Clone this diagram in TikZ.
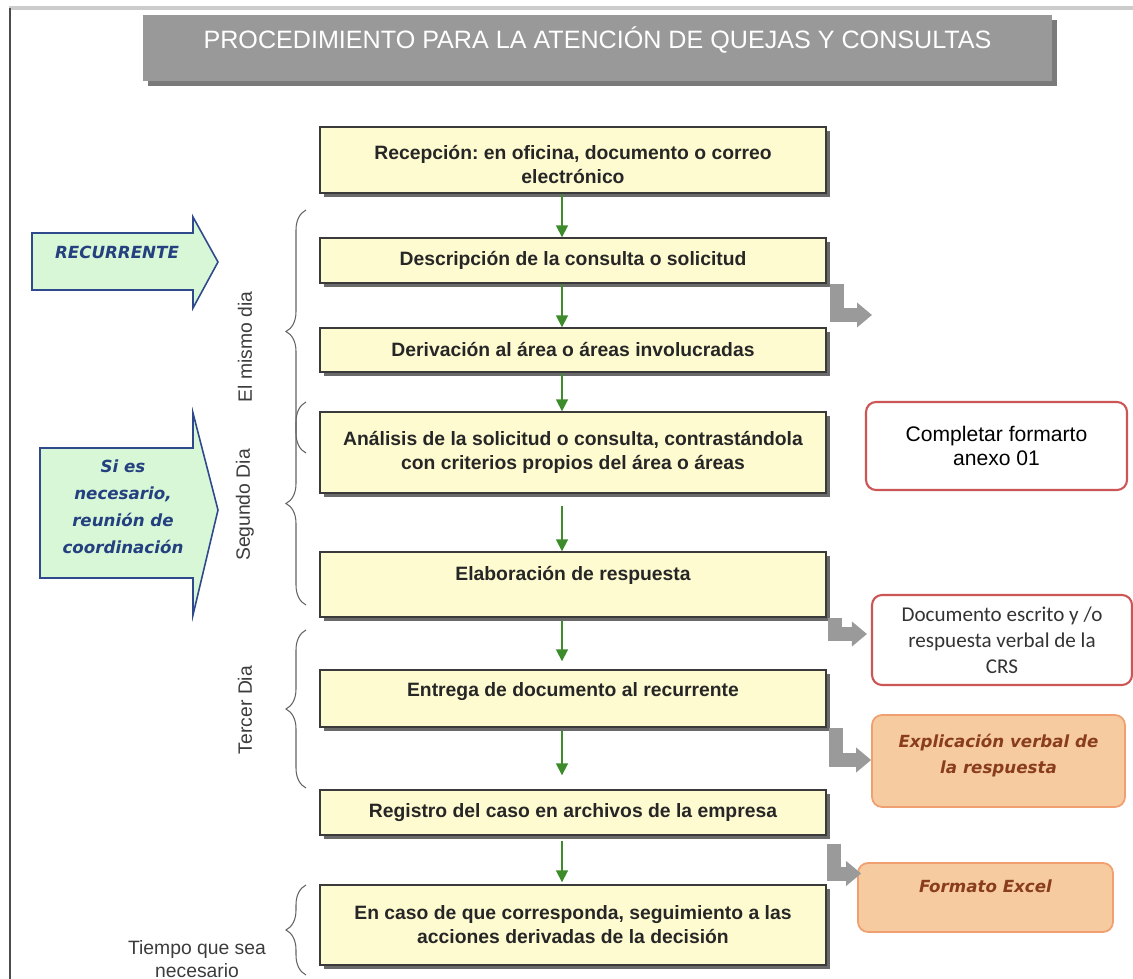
\documentclass[tikz,border=0pt]{standalone}
\usepackage{fontspec}
\setmainfont{Liberation Sans}
\newfontfamily\titlefont{Liberation Sans}
\newfontfamily\blockfont{DejaVu Sans}
\newfontfamily\notefont{Carlito}
\usetikzlibrary{arrows.meta,shadows,decorations.pathreplacing}
\frenchspacing

\definecolor{boxfill}{HTML}{FFFBD0}
\definecolor{boxline}{HTML}{3A3A3A}
\definecolor{boxshade}{HTML}{6A6A6A}
\definecolor{flowgreen}{HTML}{3D8B2A}
\definecolor{elbowgray}{HTML}{9A9A9A}
\definecolor{titlegray}{HTML}{999999}
\definecolor{titleshade}{HTML}{7A7A7A}
\definecolor{blockfill}{HTML}{D7F7D7}
\definecolor{blockline}{HTML}{2E4A8C}
\definecolor{blocktext}{HTML}{24407F}
\definecolor{noteline}{HTML}{CC5555}
\definecolor{peachfill}{HTML}{F7CBA0}
\definecolor{peachline}{HTML}{F0A070}
\definecolor{browntext}{HTML}{8A3D1E}
\definecolor{labelgray}{HTML}{3C3C3C}

\tikzset{
  stepbox/.style={draw=boxline, line width=0.8pt, fill=boxfill,
    minimum width=10.12cm, align=center, text=black!85,
    font=\fontsize{11}{13.6}\selectfont\bfseries,
    drop shadow={shadow xshift=0.08cm, shadow yshift=-0.08cm,
      fill=boxshade, opacity=1}},
  flow/.style={draw=flowgreen, line width=1pt,
    -{Triangle[width=0.24cm,length=0.24cm]}},
  elbow/.style={draw=elbowgray, line width=0.28cm,
    -{Triangle[width=0.48cm,length=0.3cm]}},
  notebox/.style={draw=noteline, line width=1.2pt, fill=white,
    rounded corners=0.2cm, align=center},
  peachbox/.style={draw=peachline, line width=1pt, fill=peachfill,
    rounded corners=0.2cm, align=center, text=browntext,
    font=\blockfont\fontsize{9.5}{14.5}\selectfont\bfseries\itshape},
  blockarrow/.style={draw=blockline, line width=0.9pt, fill=blockfill},
  blocklabel/.style={align=center, text=blocktext,
    font=\blockfont\fontsize{9.5}{15.3}\selectfont\bfseries\itshape},
  daybrace/.style={draw=labelgray!80, line width=0.6pt, decorate,
    decoration={brace, amplitude=0.4cm}},
  daylabel/.style={rotate=90, text=labelgray,
    font=\fontsize{11}{13}\selectfont}
}

\begin{document}
\begin{tikzpicture}[x=0.02cm, y=-0.02cm]
  \useasboundingbox (0,0) rectangle (1133,979);
  % frame of the page
  \fill[black!20] (9,6) rectangle (1133,10);
  \fill[black!70] (9,8) rectangle (11,979);

  % title
  \node[fill=titlegray, minimum width=18.18cm, minimum height=1.32cm,
    text depth=12pt, text=white,
    drop shadow={shadow xshift=0.1cm, shadow yshift=-0.1cm,
      fill=titleshade, opacity=1},
    font=\titlefont\fontsize{14.3}{16}\selectfont] (titulo) at (597.5,48)
    {PROCEDIMIENTO PARA LA ATENCIÓN DE QUEJAS Y CONSULTAS};

  % main steps
  \node[stepbox, minimum height=1.32cm, text height=27pt] (recep) at (573,160)
    {Recepción: en oficina, documento o correo\\ electrónico};
  \node[stepbox, minimum height=0.9cm] (desc) at (573,260.5)
    {Descripción de la consulta o solicitud};
  \node[stepbox, minimum height=0.88cm] (deriv) at (573,350)
    {Derivación al área o áreas involucradas};
  \node[stepbox, minimum height=1.62cm] (anal) at (573,452.5)
    {Análisis de la solicitud o consulta, contrastándola\\ con criterios propios del área o áreas};
  \node[stepbox, minimum height=1.3cm, text depth=13pt] (elab) at (573,584.5)
    {Elaboración de respuesta};
  \node[stepbox, minimum height=1.14cm, text depth=10pt] (entrega) at (573,698.5)
    {Entrega de documento al recurrente};
  \node[stepbox, minimum height=0.9cm] (regis) at (573,812.5)
    {Registro del caso en archivos de la empresa};
  \node[stepbox, minimum height=1.6cm] (encaso) at (573,925)
    {En caso de que corresponda, seguimiento a las\\ acciones derivadas de la decisión};

  \draw[flow] ([xshift=-0.22cm]recep.south) -- ([xshift=-0.22cm]desc.north);
  \draw[flow] ([xshift=-0.22cm]desc.south) -- ([xshift=-0.22cm]deriv.north);
  \draw[flow] ([xshift=-0.22cm]deriv.south) -- ([xshift=-0.22cm]anal.north);
  \draw[flow, shorten <=0.24cm] ([xshift=-0.22cm]anal.south) -- ([xshift=-0.22cm]elab.north);
  \draw[flow, shorten <=0.06cm, shorten >=0.16cm] ([xshift=-0.22cm]elab.south) -- ([xshift=-0.22cm]entrega.north);
  \draw[flow, shorten <=0.06cm, shorten >=0.28cm] ([xshift=-0.22cm]entrega.south) -- ([xshift=-0.22cm]regis.north);
  \draw[flow, shorten <=0.1cm, shorten >=0.04cm] ([xshift=-0.22cm]regis.south) -- ([xshift=-0.22cm]encaso.north);

  % notes on the right
  \node[notebox, minimum width=5.22cm, minimum height=1.76cm,
    font=\fontsize{12}{13.6}\selectfont] (compl) at (996.5,446)
    {Completar formarto\\ anexo 01};
  \node[notebox, minimum width=5.2cm, minimum height=1.8cm, text=black!80,
    font=\notefont\fontsize{12}{14.7}\selectfont] (docu) at (1002,640)
    {Documento escrito y /o\\ respuesta verbal de la\\ CRS};
  \node[peachbox, minimum width=5.06cm, minimum height=1.84cm,
    text depth=8pt] (explic) at (998.5,761)
    {Explicación verbal de\\ la respuesta};
  \node[peachbox, minimum width=5.1cm, minimum height=1.38cm,
    text depth=13pt] (excel) at (985.5,897.5) {Formato Excel};

  \coordinate (descout) at (872,315);
  \draw[elbow] ([xshift=0.2cm]desc.south east) |- (descout);
  \draw[elbow] ([xshift=0.16cm]elab.south east) |- ([xshift=-0.08cm,yshift=0.12cm]docu.west);
  \draw[elbow] ([xshift=0.19cm]entrega.south east) |- ([yshift=0.02cm]explic.west);
  \draw[elbow] ([xshift=0.14cm,yshift=-0.16cm]regis.south east) |- ([xshift=0.08cm,yshift=0.48cm]excel.west);

  % arrows on the left
  \draw[blockarrow] (32,233) -- (193,233) -- (193,217) -- (218,262)
    -- (193,308) -- (193,290) -- (32,290) -- cycle;
  \node[blocklabel] (recurr) at (117,252) {RECURRENTE};
  \draw[blockarrow] (40,448) -- (193,448) -- (193,413) -- (218,510)
    -- (193,615) -- (193,578) -- (40,578) -- cycle;
  \node[blocklabel] (reunion) at (123,507)
    {Si es\\ necesario,\\ reunión de\\ coordinación};

  % days
  \draw[daybrace] (306,453) -- (306,210);
  \draw[daybrace] (306,605) -- (306,402);
  \draw[daybrace] (306,788) -- (306,630);
  \draw[daybrace] (306,975) -- (306,885);
  \node[daylabel] (mismo) at (245,347) {El mismo dia};
  \node[daylabel] (segundo) at (245,505) {Segundo Dia};
  \node[daylabel] (tercer) at (245,710) {Tercer Dia};
  \node[align=center, text=labelgray, font=\fontsize{11}{13}\selectfont]
    (tiempo) at (197,959) {Tiempo que sea\\ necesario};
\end{tikzpicture}
\end{document}
